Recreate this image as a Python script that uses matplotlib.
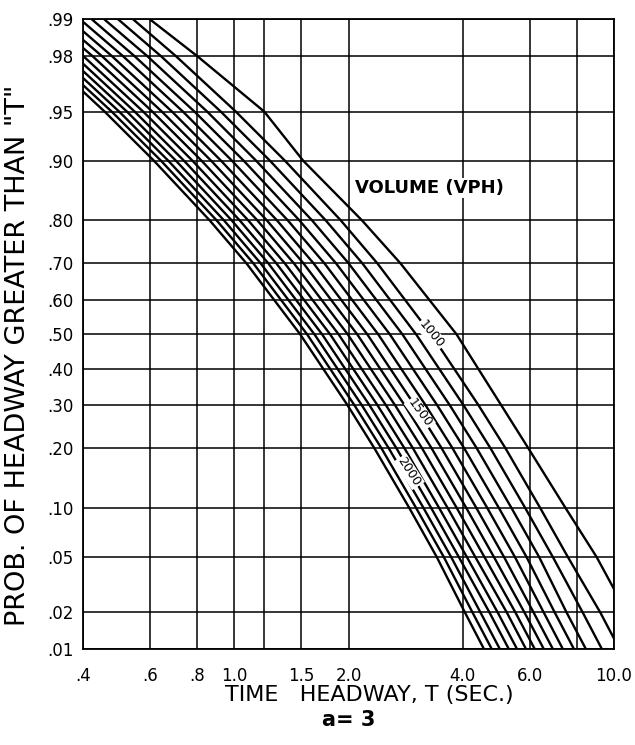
import numpy as np
import matplotlib
matplotlib.use("Agg")
import matplotlib.pyplot as plt
from matplotlib.ticker import NullLocator
from statistics import NormalDist

# ========= data =========
VOLUMES = [900, 1000, 1100, 1200, 1300, 1400, 1500, 1600,
           1700, 1800, 1900, 2000, 2100, 2200, 2300]

# probability levels at which each curve was read
PROB_LEVELS = [0.99, 0.98, 0.95, 0.90, 0.80, 0.70, 0.50,
               0.30, 0.20, 0.10, 0.05, 0.02, 0.01]

# headway T (sec) of each curve at the levels above
T_900 = [0.60, 0.80, 1.20, 1.52, 2.17, 2.74, 3.85, 5.05, 5.95, 7.45, 9.00, 10.8, 12.2]
T_1000 = [0.542, 0.703, 1.01, 1.361, 1.908, 2.382, 3.30, 4.40, 5.18, 6.39, 7.56, 9.20, 10.35]
T_1100 = [0.495, 0.642, 0.922, 1.243, 1.742, 2.175, 3.013, 4.018, 4.73, 5.835, 6.903, 8.27, 9.30]
T_1200 = [0.455, 0.591, 0.849, 1.143, 1.603, 2.001, 2.773, 3.697, 4.352, 5.369, 6.352, 7.50, 8.44]
T_1300 = [0.422, 0.547, 0.786, 1.06, 1.485, 1.854, 2.569, 3.425, 4.033, 4.975, 5.885, 6.98, 7.85]
T_1400 = [0.393, 0.51, 0.733, 0.987, 1.384, 1.728, 2.394, 3.192, 3.758, 4.636, 5.485, 6.53, 7.34]
T_1500 = [0.368, 0.477, 0.686, 0.924, 1.296, 1.618, 2.241, 2.988, 3.518, 4.34, 5.135, 6.14, 6.91]
T_1600 = [0.346, 0.449, 0.645, 0.87, 1.219, 1.522, 2.108, 2.811, 3.31, 4.083, 4.83, 5.81, 6.54]
T_1700 = [0.327, 0.424, 0.609, 0.821, 1.151, 1.436, 1.99, 2.653, 3.124, 3.853, 4.559, 5.50, 6.19]
T_1800 = [0.309, 0.401, 0.576, 0.777, 1.089, 1.359, 1.883, 2.511, 2.956, 3.646, 4.314, 5.22, 5.87]
T_1900 = [0.294, 0.381, 0.547, 0.738, 1.034, 1.291, 1.789, 2.385, 2.808, 3.463, 4.098, 4.94, 5.56]
T_2000 = [0.28, 0.363, 0.522, 0.703, 0.985, 1.23, 1.704, 2.272, 2.675, 3.30, 3.904, 4.70, 5.29]
T_2100 = [0.267, 0.347, 0.498, 0.671, 0.94, 1.174, 1.627, 2.169, 2.553, 3.15, 3.726, 4.45, 5.01]
T_2200 = [0.256, 0.331, 0.476, 0.642, 0.899, 1.123, 1.556, 2.074, 2.442, 3.012, 3.564, 4.24, 4.77]
T_2300 = [0.245, 0.318, 0.456, 0.615, 0.862, 1.077, 1.492, 1.989, 2.34, 2.89, 3.415, 4.05, 4.55]

CURVES = [T_900, T_1000, T_1100, T_1200, T_1300, T_1400, T_1500, T_1600,
          T_1700, T_1800, T_1900, T_2000, T_2100, T_2200, T_2300]

# axis ticks / grid
X_TICKS = [0.4, 0.6, 0.8, 1.0, 1.2, 1.5, 2.0, 4.0, 6.0, 8.0, 10.0]
X_LABELS = [".4", ".6", ".8", "1.0", "", "1.5", "2.0", "4.0", "6.0", "", "10.0"]
Y_TICKS = [0.01, 0.02, 0.05, 0.10, 0.20, 0.30, 0.40, 0.50,
           0.60, 0.70, 0.80, 0.90, 0.95, 0.98, 0.99]
Y_LABELS = [".01", ".02", ".05", ".10", ".20", ".30", ".40", ".50",
            ".60", ".70", ".80", ".90", ".95", ".98", ".99"]

# labels written on the curves: (text, T, P, angle)
CURVE_LABELS = [("1000", 3.30, 0.50, -51), ("1500", 3.08, 0.28, -54),
                ("2000", 2.89, 0.155, -57)]


# ========= normal probability scale =========
_nd = NormalDist()


def prob_fwd(p):
    p = np.clip(np.asarray(p, dtype=float), 1e-7, 1 - 1e-7)
    return np.vectorize(_nd.inv_cdf, otypes=[float])(p)


def prob_inv(z):
    return np.vectorize(_nd.cdf, otypes=[float])(np.asarray(z, dtype=float))


# ========= plot =========
W, H = 635, 745
fig = plt.figure(figsize=(W / 100, H / 100), dpi=100)
left, right, top, bottom = 83, 614, 19.3, 649.3
ax = fig.add_axes([left / W, 1 - bottom / H, (right - left) / W, (bottom - top) / H])

ax.set_xscale("log")
ax.set_yscale("function", functions=(prob_fwd, prob_inv))
ax.set_xlim(0.4, 10.0)
ax.set_ylim(0.01, 0.99)

ax.set_xticks(X_TICKS)
ax.set_xticklabels(X_LABELS)
ax.set_yticks(Y_TICKS)
ax.set_yticklabels(Y_LABELS)
ax.xaxis.set_minor_locator(NullLocator())
ax.yaxis.set_minor_locator(NullLocator())
ax.tick_params(axis="both", length=0, labelsize=12)
ax.tick_params(axis="x", pad=13)
ax.tick_params(axis="y", pad=7)
ax.grid(True, color="black", linewidth=1.1)
for s in ax.spines.values():
    s.set_linewidth(1.3)

for t_vals in CURVES:
    ax.plot(t_vals, PROB_LEVELS, color="black", linewidth=1.7,
            solid_capstyle="butt", zorder=3)

for txt, t, p, ang in CURVE_LABELS:
    ax.text(t, p, txt, rotation=ang, fontsize=9, ha="center", va="center",
            rotation_mode="anchor", zorder=4,
            bbox=dict(facecolor="white", edgecolor="none", pad=0.8))

ax.text(3.26, 0.86, "VOLUME (VPH)", fontsize=13, fontweight="bold",
        ha="center", va="center", zorder=4,
        bbox=dict(facecolor="white", edgecolor="none", pad=0.5))

fig.text(369 / W, 1 - 695 / H, "TIME   HEADWAY, T (SEC.)", fontsize=16,
         ha="center", va="center")
fig.text(349 / W, 1 - 720 / H, "a= 3", fontsize=15, fontweight="bold",
         ha="center", va="center")
fig.text(18 / W, 1 - 355 / H, 'PROB. OF HEADWAY GREATER THAN "T"', fontsize=19.5,
         rotation=90, ha="center", va="center")

fig.savefig("out.png", dpi=100)
plt.close(fig)
